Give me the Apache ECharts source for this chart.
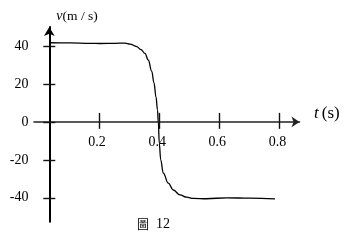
<!DOCTYPE html>
<html>
<head>
<meta charset="utf-8">
<script src="https://cdn.jsdelivr.net/npm/echarts@6/dist/echarts.min.js"></script>
<style>html,body{margin:0;padding:0;background:#fff}#c{width:345px;height:243px}</style>
</head>
<body>
<div id="c"></div>
<script>
// Data
var tValues = [0.0354, 0.104, 0.1705, 0.2037, 0.2535, 0.2867, 0.3033, 0.3255, 0.3398, 0.3531, 0.364, 0.3753, 0.383, 0.3896, 0.3946, 0.3972, 0.4006, 0.4052, 0.4138, 0.4304, 0.447, 0.4693, 0.4915, 0.5134, 0.5579, 0.6243, 0.7017, 0.7847];
var vValues = [41.7, 41.6, 41.4, 41.3, 41.4, 41.5, 41.0, 39.7, 38.1, 36.1, 32.6, 26.8, 20.5, 13.1, 6.3, 0, -11.3, -20.0, -27.0, -32.3, -35.9, -38.5, -39.7, -40.3, -40.5, -40.0, -40.2, -40.6];
var xTicks = [0.2, 0.4, 0.6, 0.8];
var yTicks = [-40, -20, 0, 20, 40];
var xName = 't';
var xUnit = '(s)';
var yName = 'v';
var yUnit = '(m / s)';
var caption = ['圖', '12'];

// axis extents (layout)
var T0 = 0.0354;          // where the vertical axis crosses
var XMIN = -0.0154, XMAX = 0.866;
var YMIN = -52.6, YMAX = 50;

var serif = '"Liberation Serif", "DejaVu Serif", serif';
var chart = echarts.init(document.getElementById('c'), null, {renderer: 'canvas'});
var pts = tValues.map(function (t, i) { return [t, vValues[i]]; });

chart.setOption({
  animation: false,
  grid: {left: 34, right: 45.5, top: 27, bottom: 21.3, containLabel: false, outerBoundsMode: 'none'},
  title: {
    text: '{c|' + caption[0] + '}{n|' + caption[1] + '}',
    left: 137, top: 217, padding: 0,
    textStyle: {
      fontWeight: 'normal',
      rich: {
        c: {fontFamily: '"Noto Sans CJK TC"', fontSize: 12, fontWeight: 'normal', color: '#000', padding: [0, 7, 0, 0]},
        n: {fontFamily: serif, fontSize: 14, fontWeight: 'normal', color: '#000'}
      }
    }
  },
  xAxis: [
    {
      type: 'value', position: 'bottom', min: XMIN, max: XMAX,
      splitLine: {show: false},
      axisLine: {show: true, onZero: true, onZeroAxisIndex: 0, symbol: ['none', 'arrow'], symbolSize: [8, 8],
        lineStyle: {color: '#222', width: 1.6}},
      axisTick: {show: true, inside: true, length: 9, customValues: xTicks,
        lineStyle: {color: '#111', width: 1.4}},
      axisLabel: {show: true, customValues: xTicks, margin: -86, color: '#000',
        fontFamily: serif, fontSize: 14, padding: [0, 4, 0, 0]},
      name: '{i|' + xName + '}{n|' + xUnit + '}',
      nameLocation: 'end', nameGap: 14.5,
      nameTextStyle: {
        padding: [0, 0, 17, 0],
        rich: {
          i: {fontFamily: serif, fontStyle: 'italic', fontSize: 17, color: '#000', padding: [0, 3, 0, 0]},
          n: {fontFamily: serif, fontSize: 17, color: '#000'}
        }
      }
    },
    {
      type: 'value', position: 'top', show: false, min: XMIN - T0, max: XMAX - T0,
      splitLine: {show: false},
      axisLine: {onZero: false}
    },
    {
      type: 'value', position: 'bottom', min: XMIN, max: XMAX,
      splitLine: {show: false},
      axisLine: {show: false, onZero: true, onZeroAxisIndex: 0},
      axisTick: {show: true, inside: false, length: 7, customValues: xTicks,
        lineStyle: {color: '#111', width: 1.4}},
      axisLabel: {show: false}
    }
  ],
  yAxis: [
    {
      type: 'value', position: 'left', min: YMIN, max: YMAX,
      splitLine: {show: false},
      axisLine: {show: true, onZero: true, onZeroAxisIndex: 1, symbol: ['none', 'arrow'],
        symbolSize: [8, 9], lineStyle: {color: '#000', width: 2}},
      axisTick: {show: true, inside: false, length: 6, customValues: yTicks,
        lineStyle: {color: '#111', width: 1.4}},
      axisLabel: {show: true, customValues: yTicks, margin: 5.5, color: '#000',
        fontFamily: serif, fontSize: 14},
      name: '{i|' + yName + '}{n|' + yUnit + '}',
      nameLocation: 'end', nameGap: 4,
      nameTextStyle: {
        align: 'left', padding: [0, 0, 0, 7],
        rich: {
          i: {fontFamily: serif, fontStyle: 'italic', fontSize: 14, color: '#000'},
          n: {fontFamily: serif, fontSize: 13.5, color: '#000'}
        }
      }
    },
    {
      type: 'value', position: 'left', min: YMIN, max: YMAX,
      splitLine: {show: false},
      axisLine: {show: false, onZero: true, onZeroAxisIndex: 1},
      axisTick: {show: true, inside: true, length: 6, customValues: yTicks,
        lineStyle: {color: '#111', width: 1.4}},
      axisLabel: {show: false}
    }
  ],
  series: [{
    type: 'line', xAxisIndex: 0, yAxisIndex: 0, data: pts,
    showSymbol: false, smooth: 0.4, smoothMonotone: 'x',
    lineStyle: {color: '#000', width: 1.3}
  }]
});
</script>
</body>
</html>
